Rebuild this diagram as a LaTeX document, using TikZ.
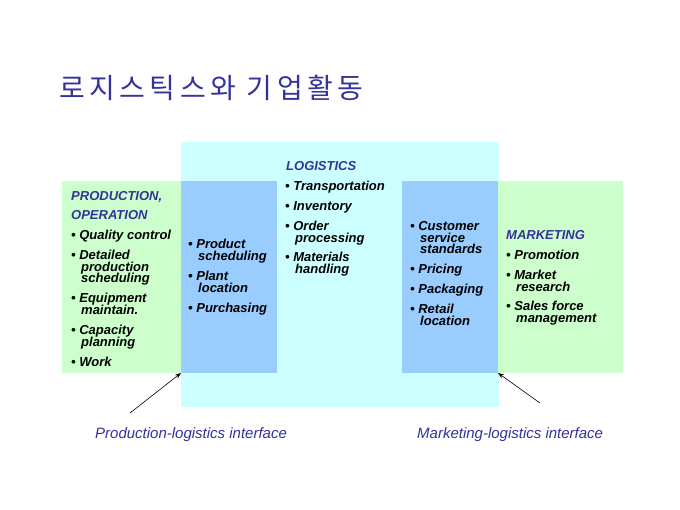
\documentclass[tikz,border=0pt]{standalone}
\usepackage{fontspec}
\setmainfont{Liberation Sans}
\newfontfamily\krfont[LetterSpace=16]{Noto Sans CJK KR}
\usetikzlibrary{arrows.meta}
\definecolor{hblue}{RGB}{51,51,153}
\definecolor{lgreen}{RGB}{204,255,204}
\definecolor{lcyan}{RGB}{204,255,255}
\definecolor{mblue}{RGB}{153,204,255}
\newcommand\tline[3]{\node[txt] (#1) at (#2) {#3};}
\newcommand\hdline[3]{\node[hd] (#1) at (#2) {#3};}
\begin{document}
\begin{tikzpicture}[x=1pt,y=-1pt,
  txt/.style={anchor=base west, inner sep=0, font=\fontsize{13}{13}\selectfont\bfseries\itshape},
  hd/.style={txt, text=hblue},
  box/.style={anchor=north west, inner sep=0, outer sep=0, draw=none},
  lab/.style={anchor=base west, inner sep=0, text=hblue, font=\fontsize{15}{15}\selectfont\itshape},
  arr/.style={-{Stealth[length=6pt,width=4.5pt]}, line width=0.6pt}]
\path[use as bounding box, fill=white] (0,0) rectangle (680,510);
% title
\node[anchor=west, inner sep=0, text=hblue, font=\krfont\fontsize{28}{28}\selectfont] (title) at (59,88) {로지스틱스와 기업활동};
% boxes
\node[box, fill=lcyan, minimum width=318pt, minimum height=265pt] (cy) at (181,142) {};
\node[box, fill=lgreen, minimum width=119pt, minimum height=192pt] (lg) at (62,181) {};
\node[box, fill=mblue, minimum width=96pt, minimum height=192pt] (lb) at (181,181) {};
\node[box, fill=mblue, minimum width=96pt, minimum height=192pt] (rb) at (402,181) {};
\node[box, fill=lgreen, minimum width=125pt, minimum height=192pt] (rg) at (498,181) {};
% left green
\hdline{p0}{71,201}{PRODUCTION,}
\hdline{p1}{71,220}{OPERATION}
\tline{p2}{71,240}{\textbullet\ Quality control}
\tline{p3}{71,260}{\textbullet\ Detailed}
\tline{p3b}{81,271.5}{production}
\tline{p3c}{81,283}{scheduling}
\tline{p4}{71,303}{\textbullet\ Equipment}
\tline{p4b}{81,314.5}{maintain.}
\tline{p5}{71,335}{\textbullet\ Capacity}
\tline{p5b}{81,346.5}{planning}
\tline{p6}{71,367}{\textbullet\ Work}
% left blue
\tline{a1}{188,249}{\textbullet\ Product}
\tline{a1b}{198,260.5}{scheduling}
\tline{a2}{188,281}{\textbullet\ Plant}
\tline{a2b}{198,292.5}{location}
\tline{a3}{188,313}{\textbullet\ Purchasing}
% center
\hdline{l0}{286,171}{LOGISTICS}
\tline{l1}{285,191}{\textbullet\ Transportation}
\tline{l2}{285,211}{\textbullet\ Inventory}
\tline{l3}{285,231}{\textbullet\ Order}
\tline{l3b}{295,242.5}{processing}
\tline{l4}{285,262}{\textbullet\ Materials}
\tline{l4b}{295,273.5}{handling}
% right blue
\tline{b1}{410,231}{\textbullet\ Customer}
\tline{b1b}{420,242.5}{service}
\tline{b1c}{420,254}{standards}
\tline{b2}{410,274}{\textbullet\ Pricing}
\tline{b3}{410,294}{\textbullet\ Packaging}
\tline{b4}{410,314}{\textbullet\ Retail}
\tline{b4b}{420,325.5}{location}
% right green
\hdline{m0}{506,240}{MARKETING}
\tline{m1}{506,260}{\textbullet\ Promotion}
\tline{m2}{506,280}{\textbullet\ Market}
\tline{m2b}{516,291.5}{research}
\tline{m3}{506,311}{\textbullet\ Sales force}
\tline{m3b}{516,322.5}{management}
% interfaces
\node[lab] (pli) at (95,438) {Production-logistics interface};
\node[lab] (mli) at (417,438) {Marketing-logistics interface};
\coordinate (pt) at (130,413);
\coordinate (mt) at (540,403);
\draw[arr] (pt) -- (lb.south west);
\draw[arr] (mt) -- (rb.south east);
\end{tikzpicture}
\end{document}
